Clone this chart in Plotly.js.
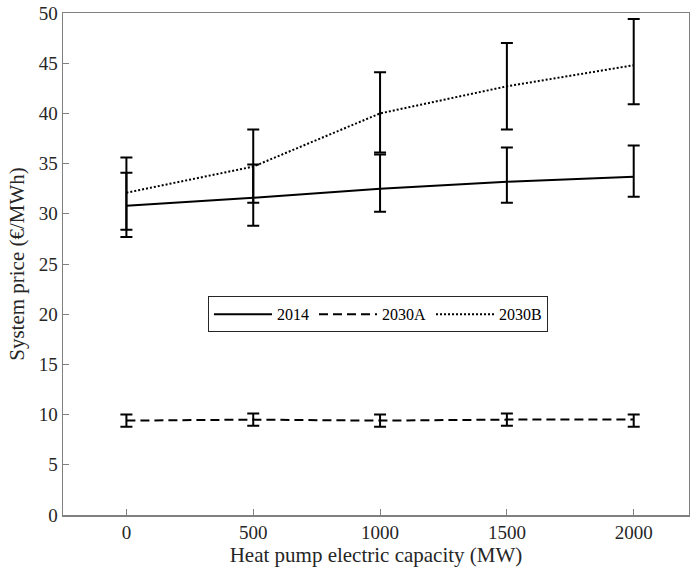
<!DOCTYPE html>
<html>
<head>
<meta charset="utf-8">
<script src="https://cdn.plot.ly/plotly-3.0.1.min.js"></script>
<style>body{margin:0;padding:0;background:#fff;} #chart{width:690px;height:574px;}</style>
</head>
<body>
<div id="chart"></div>
<script>
// Data
const capacity = [0, 500, 1000, 1500, 2000];
const seriesNames = ["2014", "2030A", "2030B"];

const price2014 = [30.8, 31.6, 32.5, 33.2, 33.7];
const hi2014    = [34.1, 34.9, 35.9, 36.6, 36.8];
const lo2014    = [27.7, 28.8, 30.2, 31.1, 31.7];

const price2030A = [9.4, 9.5, 9.4, 9.5, 9.5];
const hi2030A    = [10.0, 10.1, 10.0, 10.1, 10.0];
const lo2030A    = [8.8, 8.9, 8.8, 8.9, 8.8];

const price2030B = [32.1, 34.7, 40.0, 42.7, 44.8];
const hi2030B    = [35.6, 38.4, 44.1, 47.0, 49.4];
const lo2030B    = [28.4, 31.1, 36.1, 38.4, 40.9];

const xTicks = [0, 500, 1000, 1500, 2000];
const yTicks = [0, 5, 10, 15, 20, 25, 30, 35, 40, 45, 50];

function trace(name, y, hi, lo, dash) {
  return {
    x: capacity, y: y, name: name, type: 'scatter', mode: 'lines',
    line: {color: '#000', width: 2, dash: dash},
    error_y: {
      type: 'data', symmetric: false,
      array: y.map((v, i) => +(hi[i] - v).toFixed(3)),
      arrayminus: y.map((v, i) => +(v - lo[i]).toFixed(3)),
      color: '#000', thickness: 2, width: 6
    }
  };
}

const data = [
  trace(seriesNames[0], price2014, hi2014, lo2014, 'solid'),
  trace(seriesNames[1], price2030A, hi2030A, lo2030A, '9px,5px'),
  trace(seriesNames[2], price2030B, hi2030B, lo2030B, '2px,2px')
];

const axisFont = {family: 'Liberation Serif, Times New Roman, serif', size: 19, color: '#262626'};
const layout = {
  width: 690, height: 574,
  margin: {l: 63, r: 1, t: 13, b: 59},
  paper_bgcolor: '#fff', plot_bgcolor: '#fff',
  showlegend: true,
  legend: {
    orientation: 'h', x: 0.2316, y: 0.4357, xanchor: 'left', yanchor: 'top',
    bordercolor: '#262626', borderwidth: 1, bgcolor: '#fff',
    font: {family: 'Liberation Serif, Times New Roman, serif', size: 16, color: '#000'},
    itemwidth: 58, tracegroupgap: 0
  },
  xaxis: {
    range: [-250, 2218], tickvals: xTicks, ticktext: xTicks.map(String),
    ticks: 'inside', ticklen: 6, tickcolor: '#808080', tickwidth: 1,
    showline: true, linecolor: '#808080', linewidth: 1.5, mirror: true,
    showgrid: false, zeroline: false, tickfont: axisFont,
    title: {text: 'Heat pump electric capacity (MW)', font: {family: axisFont.family, size: 21, color: '#262626'}, standoff: 4}
  },
  yaxis: {
    range: [0, 50], tickvals: yTicks, ticktext: yTicks.map(String),
    ticks: 'inside', ticklen: 6, tickcolor: '#808080', tickwidth: 1,
    showline: true, linecolor: '#808080', linewidth: 1.5, mirror: true,
    showgrid: false, zeroline: false, tickfont: axisFont,
    title: {text: 'System price (€/MWh)', font: {family: axisFont.family, size: 21, color: '#262626'}, standoff: 8}
  }
};

Plotly.newPlot('chart', data, layout, {staticPlot: true, displayModeBar: false});
</script>
</body>
</html>
